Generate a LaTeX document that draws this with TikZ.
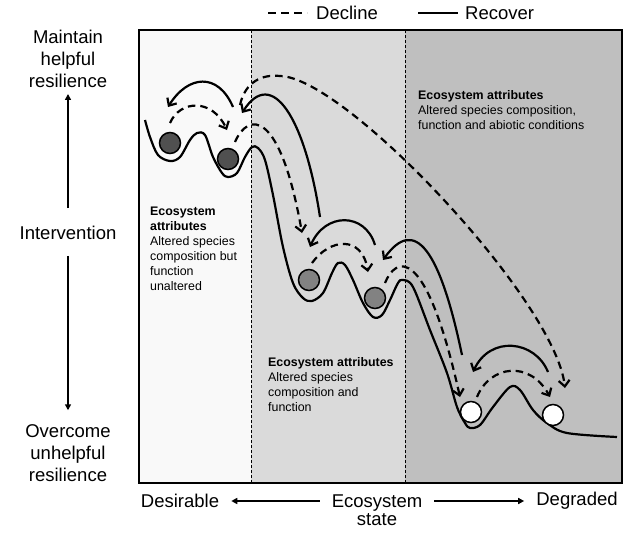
\documentclass[tikz,border=0pt]{standalone}
\usepackage{fontspec}
\setmainfont{Liberation Sans}
\usetikzlibrary{arrows.meta}
\definecolor{paneA}{RGB}{249,249,249}
\definecolor{paneB}{RGB}{218,218,218}
\definecolor{paneC}{RGB}{191,191,191}
\definecolor{ballA}{RGB}{80,80,80}
\definecolor{ballB}{RGB}{130,130,130}
\tikzset{
  land/.style={line width=2.2pt},
  recover/.style={line width=2.2pt,-{Straight Barb[length=6pt,width=11pt]}},
  decline/.style={recover,dash pattern=on 7.5pt off 5pt},
  ball/.style={circle,draw,line width=1.5pt,minimum size=21pt,inner sep=0pt},
  attr/.style={align=left,anchor=north west,inner sep=0pt,font=\fontsize{12.4}{15}\selectfont},
  lbl/.style={align=center,inner sep=0pt,font=\fontsize{18.5}{22}\selectfont},
  axis/.style={line width=1.8pt,-{Triangle[length=6pt,width=6pt]}},
  divider/.style={line width=0.8pt,dash pattern=on 3pt off 2pt}
}
\begin{document}
\begin{tikzpicture}[x=1pt,y=-1pt]
\useasboundingbox (0,0) rectangle (625,533);

\fill[paneA] (139,30) rectangle (251,483);
\fill[paneB] (251,30) rectangle (405,483);
\fill[paneC] (405,30) rectangle (622,483);
\draw[divider] (251,30) -- (251,483);
\draw[divider] (405,30) -- (405,483);
\draw[line width=2.5pt] (139,30) rectangle (622,483);

% legend
\coordinate (decA) at (268,13); \coordinate (decB) at (307,13);
\draw[line width=2.8pt,dash pattern=on 8pt off 5pt] (decA) -- (decB);
\node[lbl,anchor=west] (decline) at (316,13) {Decline};
\coordinate (recA) at (418,13); \coordinate (recB) at (458,13);
\draw[line width=2.8pt] (recA) -- (recB);
\node[lbl,anchor=west] (recover) at (465,13) {Recover};

% left axis
\node[lbl] (maintain) at (68,59) {Maintain\\helpful\\resilience};
\node[lbl] (interv) at (68,233) {Intervention};
\node[lbl] (overcome) at (68,453) {Overcome\\unhelpful\\resilience};
\draw[axis,shorten <=18pt,shorten >=6pt] (interv.north) -- (maintain.south);
\draw[axis,shorten <=16pt,shorten >=14pt] (interv.south) -- (overcome.north);

% bottom axis
\node[lbl] (desir) at (180,501) {Desirable};
\node[lbl,font=\fontsize{18.5}{18}\selectfont] (state) at (377,510) {Ecosystem\\state};
\node[lbl] (degr) at (577,501) {Degraded};
\draw[axis,shorten <=12pt,shorten >=12pt] (state.west |- desir.center) -- (desir.east);
\draw[axis,shorten <=12pt,shorten >=12pt] (state.east |- degr.center) -- (degr.west);

% attributes
\node[attr] (attrA) at (150,207) {\textbf{Ecosystem}\\\textbf{attributes}\\Altered species\\composition but\\function\\unaltered};
\node[attr] (attrB) at (268,357) {\textbf{Ecosystem attributes}\\Altered species\\composition and\\function};
\node[attr] (attrC) at (418,90) {\textbf{Ecosystem attributes}\\Altered species composition,\\function and abiotic conditions};

% landscape
\draw[land] plot[smooth,tension=0.55] coordinates {
  (145,120) (150,137) (158,155) (170,161) (180,157) (190,140) (197,133)
  (205,135) (213,157) (222,173) (228,177) (237,173) (245,157) (252,147)
  (258,148) (265,160) (273,195) (283,247) (293,283) (303,298) (312,301)
  (323,293) (332,273) (338,263) (345,265) (353,280) (363,303) (373,317)
  (382,315) (390,300) (398,283) (403,280) (413,287) (430,330) (447,373)
  (457,407) (465,423) (470,428) (480,425) (493,407) (510,387) (520,390)
  (533,410) (547,423) (567,433) (617,437)};

% balls
\node[ball,fill=ballA] (b1) at (170,143) {};
\node[ball,fill=ballA] (b2) at (228,159) {};
\node[ball,fill=ballB] (b3) at (309,280) {};
\node[ball,fill=ballB] (b4) at (375,298) {};
\node[ball,fill=white] (b5) at (471,412) {};
\node[ball,fill=white] (b6) at (553,415) {};

% arrows
\coordinate (r1a) at (233,107); \coordinate (r1b) at (168,107);
\draw[recover] (r1a) .. controls (218,72) and (188,75) .. (r1b);
\coordinate (d1a) at (170,123); \coordinate (d1b) at (227,130);
\draw[decline] (d1a) .. controls (180,100) and (212,98) .. (d1b);
\coordinate (r2a) at (320,217); \coordinate (r2b) at (242,113);
\draw[recover] (r2a) .. controls (305,118) and (272,66) .. (r2b);
\coordinate (d2a) at (235,142); \coordinate (d2b) at (302,233);
\draw[decline] (d2a) .. controls (248,112) and (280,108) .. (d2b);
\coordinate (d3a) at (240,105); \coordinate (d3m) at (280,76); \coordinate (d3b) at (565,388);
\draw[decline] (d3a) .. controls (245,82) and (262,74) .. (d3m)
  .. controls (345,77) and (555,300) .. (d3b);
\coordinate (r3a) at (375,245); \coordinate (r3b) at (310,247);
\draw[recover] (r3a) .. controls (365,212) and (325,212) .. (r3b);
\coordinate (d4a) at (312,263); \coordinate (d4b) at (368,272);
\draw[decline] (d4a) .. controls (330,238) and (362,235) .. (d4b);
\coordinate (r4a) at (462,355); \coordinate (r4b) at (383,260);
\draw[recover] (r4a) .. controls (440,250) and (415,215) .. (r4b);
\coordinate (d5a) at (385,283); \coordinate (d5b) at (460,397);
\draw[decline] (d5a) .. controls (395,258) and (425,240) .. (d5b);
\coordinate (d6a) at (477,397); \coordinate (d6b) at (550,397);
\draw[decline] (d6a) .. controls (490,365) and (530,360) .. (d6b);
\coordinate (r5a) at (548,372); \coordinate (r5b) at (473,372);
\draw[recover] (r5a) .. controls (535,340) and (490,335) .. (r5b);
\end{tikzpicture}
\end{document}
